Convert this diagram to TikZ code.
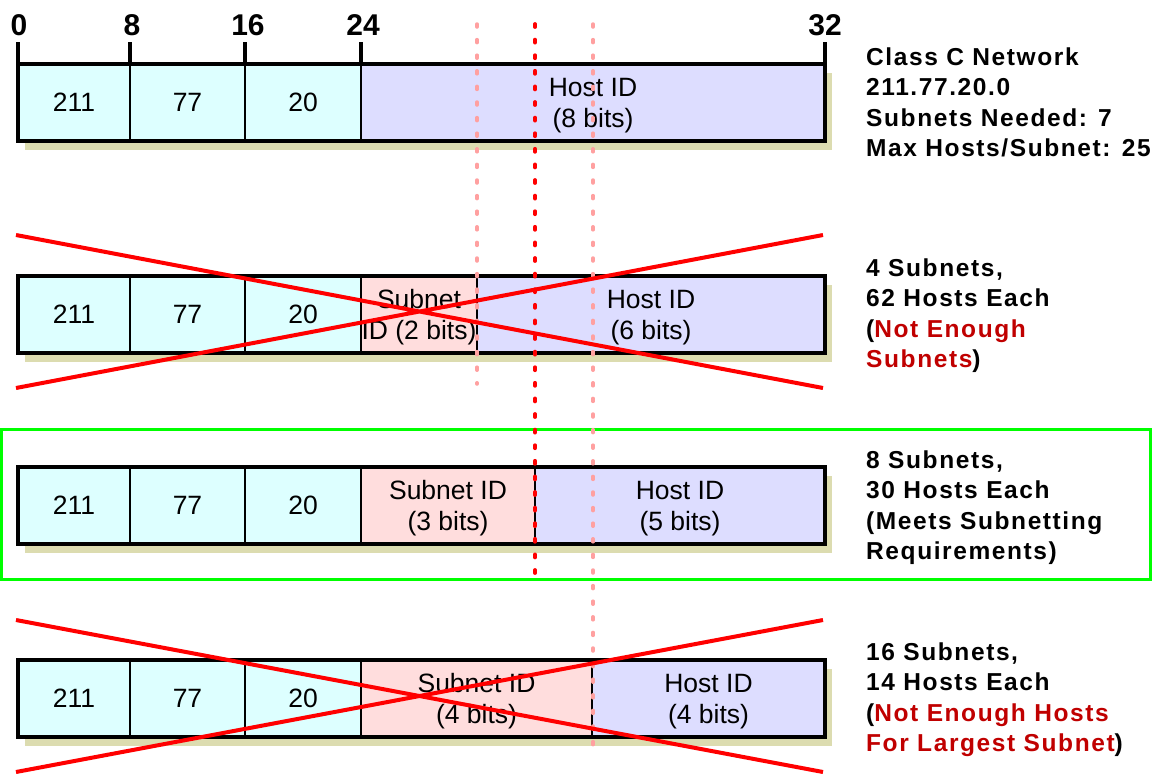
\documentclass[tikz,border=0pt]{standalone}
\usepackage{fontspec}
\setmainfont{Liberation Sans}
\newfontfamily\lblfont[LetterSpace=6.5]{Liberation Sans}
\definecolor{cellcyan}{HTML}{DDFFFF}
\definecolor{celllav}{HTML}{DDDDFF}
\definecolor{cellpink}{HTML}{FFDDDD}
\definecolor{shadowc}{HTML}{DCDCB0}
\definecolor{darkred}{HTML}{C00000}
\definecolor{dashpink}{HTML}{FFA0A0}
\definecolor{boxgreen}{HTML}{00FF00}
\tikzset{
  cell/.style={font=\fontsize{26.5}{31}\selectfont, inner sep=0pt},
  cellline/.style={font=\fontsize{26.5}{31}\selectfont, inner sep=0pt, anchor=base},
  bitlbl/.style={font=\fontsize{30}{32}\selectfont\bfseries, inner sep=0pt, anchor=base},
  note/.style={font=\lblfont\fontsize{24.5}{30.5}\selectfont\bfseries, inner sep=0pt, anchor=base west},
  border/.style={draw=black, line width=3.8pt},
  divider/.style={draw=black, line width=1.6pt},
  tick/.style={draw=black, line width=3.3pt},
  guide/.style={draw=dashpink, line width=3.5pt, dash pattern=on 3pt off 12.6pt, line cap=round},
  guidemain/.style={draw=red, line width=3.8pt, dash pattern=on 3pt off 12.6pt, line cap=round},
  cross/.style={draw=red, line width=4pt},
  okbox/.style={draw=boxgreen, line width=3pt},
}
\newcommand\ipbar[2]{%
  \fill[shadowc] (25,#1+9) rectangle (832,#1+86);
  \fill[cellcyan] (18,#1) rectangle (361,#1+77);
  \fill[cellpink] (361,#1) rectangle (#2,#1+77);
  \fill[celllav] (#2,#1) rectangle (825,#1+77);
  \draw[divider] (130,#1) -- (130,#1+77) (245,#1) -- (245,#1+77)
                 (361,#1) -- (361,#1+77) (#2,#1) -- (#2,#1+77);
  \draw[border] (18,#1) rectangle (825,#1+77);
}
\newcommand\octets[2]{%
  \node[cell] (#2a) at (74,#1) {211};
  \node[cell] (#2b) at (187.5,#1) {77};
  \node[cell] (#2c) at (303,#1) {20};
}
\begin{document}
\begin{tikzpicture}[x=1pt,y=-1pt]
\useasboundingbox (0,0) rectangle (1164,774);

% green frame for the valid option
\draw[okbox] (1.5,429) rectangle (1150,579);

% bit scale
\draw[tick] (18,42) -- (18,64) (130,42) -- (130,64) (245,42) -- (245,64)
            (361,42) -- (361,64) (825,42) -- (825,64);
\node[bitlbl] (b0) at (19,35) {0};
\node[bitlbl] (b8) at (132,35) {8};
\node[bitlbl] (b16) at (248,35) {16};
\node[bitlbl] (b24) at (363,35) {24};
\node[bitlbl] (b32) at (825,35) {32};

% bars
\ipbar{64}{361}
\ipbar{276}{477}
\ipbar{467}{535}
\ipbar{660}{592}

\octets{102.5}{r1}
\octets{314.5}{r2}
\octets{505.5}{r3}
\octets{698.5}{r4}

% bar 1
\node[cellline] (h1a) at (593,96.5) {Host ID};
\node[cellline] (h1b) at (593,127.5) {(8 bits)};
% bar 2
\node[cellline] (s2a) at (419,308.5) {Subnet};
\node[cellline] (s2b) at (419,339.5) {ID (2 bits)};
\node[cellline] (h2a) at (651,308.5) {Host ID};
\node[cellline] (h2b) at (651,339.5) {(6 bits)};
% bar 3
\node[cellline] (s3a) at (448,499.5) {Subnet ID};
\node[cellline] (s3b) at (448,530.5) {(3 bits)};
\node[cellline] (h3a) at (680,499.5) {Host ID};
\node[cellline] (h3b) at (680,530.5) {(5 bits)};
% bar 4
\node[cellline] (s4a) at (476.5,692.5) {Subnet ID};
\node[cellline] (s4b) at (476.5,723.5) {(4 bits)};
\node[cellline] (h4a) at (708.5,692.5) {Host ID};
\node[cellline] (h4b) at (708.5,723.5) {(4 bits)};

% guide lines
\draw[guide] (477,24) -- (477,384);
\draw[guide] (593,24) -- (593,752);
\draw[guidemain] (535,24) -- (535,581);

% crossed-out options
\draw[cross] (16,235) -- (823,388) (16,388) -- (823,235);
\draw[cross] (16,620) -- (823,772) (16,772) -- (823,620);

% notes
\node[note] (n1a) at (866,65) {Class C Network};
\node[note] (n1b) at (866,95.5) {211.77.20.0};
\node[note] (n1c) at (866,126) {Subnets Needed: 7};
\node[note] (n1d) at (866,156.5) {Max Hosts/Subnet: 25};

\node[note] (n2a) at (866,276) {4 Subnets,};
\node[note] (n2b) at (866,306.5) {62 Hosts Each};
\node[note] (n2c) at (866,337) {(\textcolor{darkred}{Not Enough}};
\node[note] (n2d) at (866,367.5) {\textcolor{darkred}{Subnets})};

\node[note] (n3a) at (866,468) {8 Subnets,};
\node[note] (n3b) at (866,498.5) {30 Hosts Each};
\node[note] (n3c) at (866,529) {(Meets Subnetting};
\node[note] (n3d) at (866,559.5) {Requirements)};

\node[note] (n4a) at (866,660) {16 Subnets,};
\node[note] (n4b) at (866,690.5) {14 Hosts Each};
\node[note] (n4c) at (866,721) {(\textcolor{darkred}{Not Enough Hosts}};
\node[note] (n4d) at (866,751.5) {\textcolor{darkred}{For Largest Subnet})};
\end{tikzpicture}
\end{document}
